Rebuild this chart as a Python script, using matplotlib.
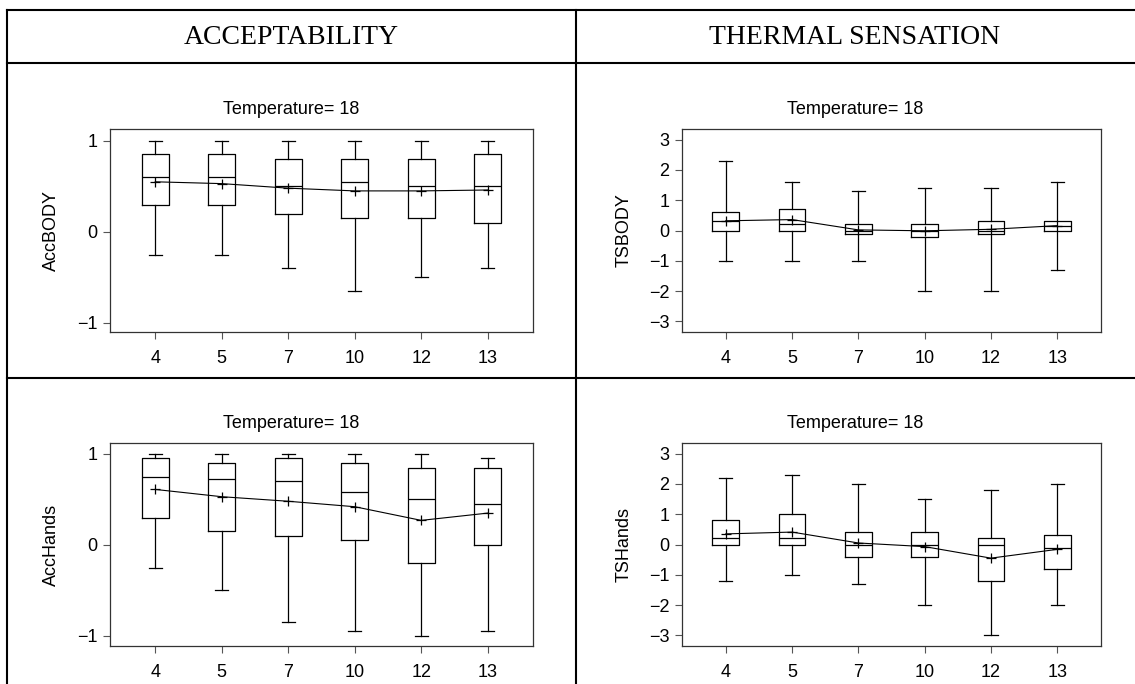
import numpy as np
import matplotlib.pyplot as plt
from matplotlib.lines import Line2D

plt.rcParams['font.family'] = ['Liberation Sans', 'DejaVu Sans']

# groups on the x axis
groups = ['4', '5', '7', '10', '12', '13']

# AccBODY, Temperature=18
accbody_lo = [-0.25, -0.25, -0.4, -0.65, -0.5, -0.4]
accbody_q1 = [0.3, 0.3, 0.2, 0.15, 0.15, 0.1]
accbody_med = [0.6, 0.6, 0.5, 0.55, 0.5, 0.5]
accbody_q3 = [0.85, 0.85, 0.8, 0.8, 0.8, 0.85]
accbody_hi = [1, 1, 1, 1, 1, 1]
accbody_mean = [0.55, 0.53, 0.48, 0.45, 0.45, 0.46]

# TSBODY, Temperature=18
tsbody_lo = [-1, -1, -1, -2, -2, -1.3]
tsbody_q1 = [0, 0, -0.1, -0.2, -0.1, 0]
tsbody_med = [0.3, 0.2, 0, 0, 0, 0.15]
tsbody_q3 = [0.6, 0.7, 0.2, 0.2, 0.3, 0.3]
tsbody_hi = [2.3, 1.6, 1.3, 1.4, 1.4, 1.6]
tsbody_mean = [0.32, 0.36, 0.02, -0.01, 0.04, 0.16]

# AccHands, Temperature=18
acchands_lo = [-0.25, -0.5, -0.85, -0.95, -1, -0.95]
acchands_q1 = [0.3, 0.15, 0.1, 0.05, -0.2, 0]
acchands_med = [0.75, 0.72, 0.7, 0.58, 0.5, 0.45]
acchands_q3 = [0.95, 0.9, 0.95, 0.9, 0.85, 0.85]
acchands_hi = [1, 1, 1, 1, 1, 0.95]
acchands_mean = [0.61, 0.53, 0.48, 0.42, 0.27, 0.35]

# TSHands, Temperature=18
tshands_lo = [-1.2, -1, -1.3, -2, -3, -2]
tshands_q1 = [0, 0, -0.4, -0.4, -1.2, -0.8]
tshands_med = [0.2, 0.2, 0, 0, 0, -0.1]
tshands_q3 = [0.8, 1, 0.4, 0.4, 0.2, 0.3]
tshands_hi = [2.2, 2.3, 2, 1.5, 1.8, 2]
tshands_mean = [0.35, 0.41, 0.05, -0.07, -0.45, -0.16]


def panel(ax, lo, q1, med, q3, hi, mean, ylim, yticks, ylabel, xlim):
    stats = []
    for i in range(len(groups)):
        stats.append(dict(whislo=lo[i], q1=q1[i], med=med[i], q3=q3[i],
                          whishi=hi[i], fliers=[]))
    pos = np.arange(1, len(groups) + 1)
    line = dict(color='black', linewidth=0.9)
    ax.bxp(stats, positions=pos, widths=0.4, showfliers=False,
           boxprops=line, whiskerprops=line, capprops=line,
           medianprops=line, capwidths=0.2)
    ax.plot(pos, mean, color='black', linewidth=0.8, marker='+',
            markersize=6.5, markeredgewidth=0.9)
    ax.set_xlim(xlim)
    ax.set_ylim(ylim)
    ax.set_xticks(pos)
    ax.set_xticklabels(groups)
    ax.set_yticks(yticks)
    ax.set_ylabel(ylabel, fontsize=13, labelpad=12)
    ax.tick_params(labelsize=13, length=5, width=0.8, color='#555555', pad=4)
    ax.tick_params(axis='x', pad=8)
    for s in ax.spines.values():
        s.set_color('#333333')
        s.set_linewidth(0.9)


fig = plt.figure(figsize=(11.35, 6.84), dpi=100)

W, H = 1135.0, 684.0
lw = 1.5

def px_ax(x0, y0, x1, y1):
    return fig.add_axes([x0 / W, 1 - y1 / H, (x1 - x0) / W, (y1 - y0) / H])

ax1 = px_ax(110, 129, 533, 332)
ax2 = px_ax(682, 129, 1101, 332)
ax3 = px_ax(110, 443, 533, 646)
ax4 = px_ax(682, 443, 1101, 646)

panel(ax1, accbody_lo, accbody_q1, accbody_med, accbody_q3, accbody_hi,
      accbody_mean, (-1.1, 1.13), [-1, 0, 1], 'AccBODY', (0.32, 6.68))
panel(ax2, tsbody_lo, tsbody_q1, tsbody_med, tsbody_q3, tsbody_hi,
      tsbody_mean, (-3.35, 3.35), [-3, -2, -1, 0, 1, 2, 3], 'TSBODY', (0.34, 6.66))
panel(ax3, acchands_lo, acchands_q1, acchands_med, acchands_q3, acchands_hi,
      acchands_mean, (-1.11, 1.12), [-1, 0, 1], 'AccHands', (0.32, 6.68))
panel(ax4, tshands_lo, tshands_q1, tshands_med, tshands_q3, tshands_hi,
      tshands_mean, (-3.35, 3.35), [-3, -2, -1, 0, 1, 2, 3], 'TSHands', (0.34, 6.66))

# table frame
def hline(y, x0=7, x1=1135):
    fig.add_artist(Line2D([x0 / W, x1 / W], [1 - y / H, 1 - y / H],
                          color='black', linewidth=lw))

def vline(x, y0=10, y1=684):
    fig.add_artist(Line2D([x / W, x / W], [1 - y0 / H, 1 - y1 / H],
                          color='black', linewidth=lw))

hline(10)
hline(63)
hline(378)
vline(7)
vline(576)

fig.text(291 / W, 1 - 37 / H, 'ACCEPTABILITY', ha='center', va='center',
         fontsize=20, family='Liberation Serif')
fig.text(855 / W, 1 - 37 / H, 'THERMAL SENSATION', ha='center', va='center',
         fontsize=20, family='Liberation Serif')

for cx in (291, 855):
    for cy in (109, 423):
        fig.text(cx / W, 1 - cy / H, 'Temperature= 18', ha='center',
                 va='center', fontsize=13)

fig.savefig('out.png', dpi=100)
